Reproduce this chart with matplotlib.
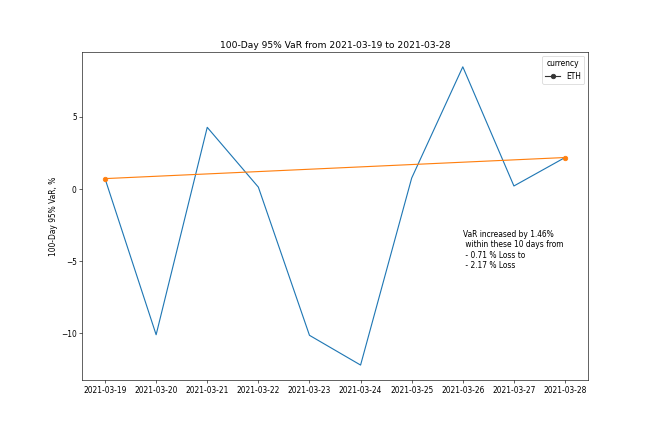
import matplotlib
matplotlib.use("Agg")
import matplotlib.pyplot as plt
from matplotlib.lines import Line2D

# data
dates = ["2021-03-19", "2021-03-20", "2021-03-21", "2021-03-22", "2021-03-23",
         "2021-03-24", "2021-03-25", "2021-03-26", "2021-03-27", "2021-03-28"]
var_eth = [0.71, -10.1, 4.26, 0.12, -10.14, -12.2, 0.75, 8.45, 0.2, 2.17]
start_var = 0.71
end_var = 2.17
change = 1.46

fig = plt.figure(figsize=(12, 8), dpi=653 / 12)
fig.subplots_adjust(left=0.1256, right=0.9005, top=0.880, bottom=0.1264)
ax = fig.add_subplot(111)

ax.plot(dates, var_eth, color="#1f77b4")
ax.plot([dates[0], dates[-1]], [start_var, end_var], color="#ff7f0e", marker="o")

ax.set_title("100-Day 95% VaR from {} to {}".format(dates[0], dates[-1]))
ax.set_ylabel("100-Day 95% VaR, %")

txt = "VaR increased by {:.2f}%\n within these {} days from\n - {:.2f} % Loss to\n - {:.2f} % Loss".format(
    change, len(dates), start_var, end_var)
ax.text(dates[7], -4.2, txt, va="center", ha="left")

handle = Line2D([], [], color="#333333", marker="o")
ax.legend([handle], ["ETH"], title="currency", loc="upper right")

fig.savefig("out.png", dpi=653 / 12)
